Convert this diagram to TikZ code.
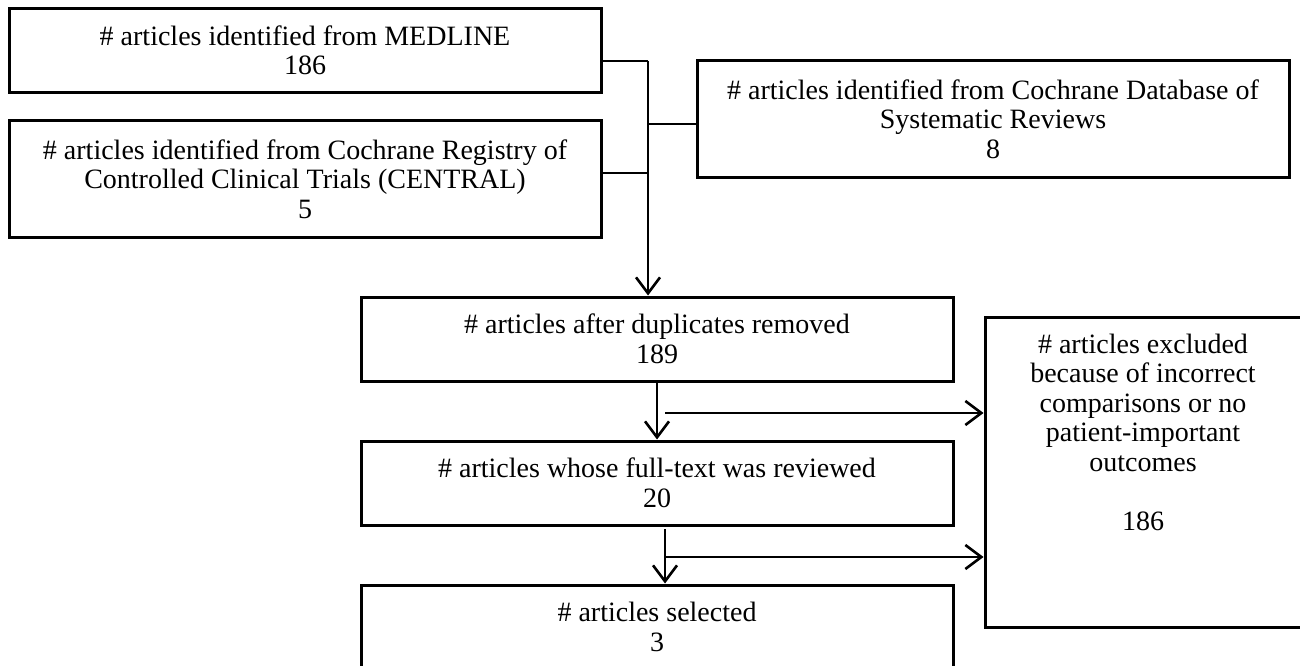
\documentclass[tikz,border=0pt]{standalone}
\usepackage{fontspec}
\setmainfont{Liberation Serif}
\usetikzlibrary{arrows.meta}
\begin{document}
\begin{tikzpicture}[x=1pt,y=-1pt,
  box/.style={draw=black, line width=3pt, rectangle, inner sep=0pt, align=center,
    font=\fontsize{28}{29.5}\selectfont, minimum width=592pt, minimum height=84pt},
  txt/.style={inner sep=0pt, align=center, font=\fontsize{28}{29.5}\selectfont},
  conn/.style={draw=black, line width=2.6pt},
  arr/.style={conn, -{Straight Barb[length=16pt,width=24pt,line width=2.6pt]}}]
\useasboundingbox (0,0) rectangle (1300,666);
\fill[white] (0,0) rectangle (1300,666);
% boxes
\node[box] (med) at (305,50.5) {\# articles identified from MEDLINE\\186};
\node[box, minimum height=116pt] (cen) at (305,179) {\# articles identified from Cochrane Registry of\\Controlled Clinical Trials (CENTRAL)\\5};
\node[box, minimum height=116pt] (dsr) at (993,119) {\# articles identified from Cochrane Database of\\Systematic Reviews\\8};
\node[box] (dup) at (657,339) {\# articles after duplicates removed\\189};
\node[box] (full) at (657,483) {\# articles whose full-text was reviewed\\20};
\node[box] (sel) at (657,627) {\# articles selected\\3};
\node[box, minimum width=318pt, minimum height=310pt] (exc) at (1144,472) {};
\node[txt] (exctext) at (1143,432) {\# articles excluded\\because of incorrect\\comparisons or no\\patient-important\\outcomes\\[29.5pt]186};
% junction coordinates
\coordinate (jtop) at (648,61);
\coordinate (jdsr) at (648,124);
\coordinate (jcen) at (648,173);
\coordinate (h1) at (665,413);
\coordinate (v2) at (665,529);
\coordinate (h2) at (665,557);
% connectors
\draw[conn] (med.east |- jtop) -- (jtop);
\draw[conn] (cen.east |- jcen) -- (jcen);
\draw[conn] (dsr.west |- jdsr) -- (jdsr);
\draw[arr] (jtop) -- (jtop |- dup.north);
\draw[arr] (dup.south) -- (full.north);
\draw[arr] (h1) -- (exc.west |- h1);
\draw[arr] (v2) -- (v2 |- sel.north);
\draw[arr] (h2) -- (exc.west |- h2);
\end{tikzpicture}
\end{document}
